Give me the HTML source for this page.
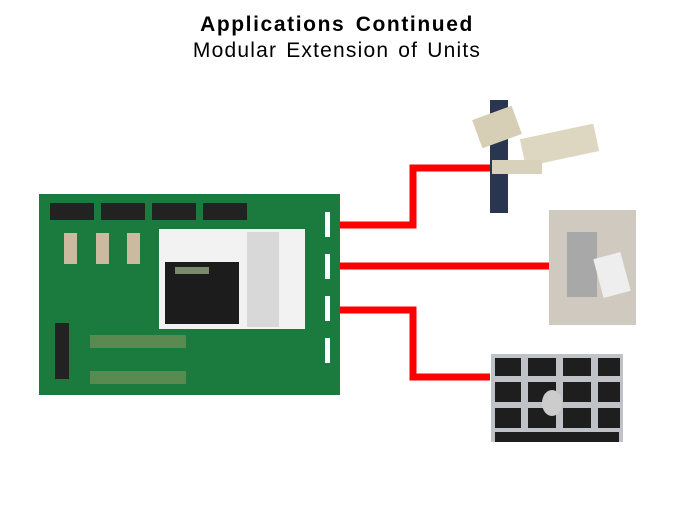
<!DOCTYPE html>
<html><head><style>
body{margin:0;width:675px;height:506px;background:#fff;overflow:hidden;font-family:"Liberation Sans",sans-serif}
</style></head><body>
<svg width="675" height="506" xmlns="http://www.w3.org/2000/svg">
<text x="337" y="31" text-anchor="middle" font-family="Liberation Sans" font-weight="bold" font-size="21" letter-spacing="1.6" word-spacing="3">Applications Continued</text>
<text x="337" y="57" text-anchor="middle" font-family="Liberation Sans" font-size="21" letter-spacing="1.2" word-spacing="2">Modular Extension of Units</text>
<rect x="39" y="194" width="301" height="201" fill="#1b7a3d"/>
<g fill="#222">
<rect x="50" y="203" width="44" height="17"/><rect x="101" y="203" width="44" height="17"/>
<rect x="152" y="203" width="44" height="17"/><rect x="203" y="203" width="44" height="17"/>
<rect x="55" y="323" width="14" height="56"/>
</g>
<g fill="#cbb9a0">
<rect x="64" y="233" width="13" height="31"/><rect x="96" y="233" width="13" height="31"/><rect x="127" y="233" width="13" height="31"/>
</g>
<g fill="#5a8a50"><rect x="90" y="335" width="96" height="13"/><rect x="90" y="371" width="96" height="13"/></g>
<g fill="#fff">
<rect x="325" y="212" width="5" height="25"/><rect x="325" y="254" width="5" height="25"/><rect x="325" y="296" width="5" height="25"/><rect x="325" y="338" width="5" height="25"/>
</g>
<rect x="159" y="229" width="146" height="100" fill="#f2f2f2"/>
<rect x="165" y="262" width="74" height="62" fill="#1c1c1c"/>
<rect x="247" y="232" width="32" height="95" fill="#d8d8d8"/>
<rect x="175" y="267" width="34" height="7" fill="#7a8a6a"/>
<g stroke="#f00" stroke-width="7" fill="none">
<polyline points="340,225 413,225 413,168 490,168"/>
<line x1="340" y1="266" x2="549" y2="266"/>
<polyline points="340,310 413,310 413,377 490,377"/>
</g>
<rect x="490" y="100" width="18" height="113" fill="#2a3550"/>
<rect x="476" y="112" width="42" height="30" fill="#d6cfb5" transform="rotate(-20 497 127)"/>
<rect x="522" y="131" width="75" height="28" fill="#ddd6c0" transform="rotate(-12 560 145)"/>
<rect x="492" y="160" width="50" height="14" fill="#d8d2bc"/>
<rect x="549" y="210" width="87" height="115" fill="#cfc9c0"/>
<rect x="567" y="232" width="30" height="65" fill="#a8a8a8"/>
<rect x="598" y="255" width="28" height="40" fill="#eee" transform="rotate(-15 612 275)"/>
<rect x="491" y="354" width="132" height="88" fill="#bfc3c7"/>
<g fill="#1e1e1e">
<rect x="495" y="358" width="26" height="18"/><rect x="528" y="358" width="28" height="18"/><rect x="563" y="358" width="28" height="18"/><rect x="598" y="358" width="22" height="18"/>
<rect x="495" y="382" width="26" height="20"/><rect x="528" y="382" width="28" height="20"/><rect x="563" y="382" width="28" height="20"/><rect x="598" y="382" width="22" height="20"/>
<rect x="495" y="408" width="26" height="20"/><rect x="528" y="408" width="28" height="20"/><rect x="563" y="408" width="28" height="20"/><rect x="598" y="408" width="22" height="20"/>
<rect x="495" y="432" width="124" height="10"/>
</g>
<ellipse cx="552" cy="403" rx="10" ry="13" fill="#ccc"/>
</svg>
</body></html>
